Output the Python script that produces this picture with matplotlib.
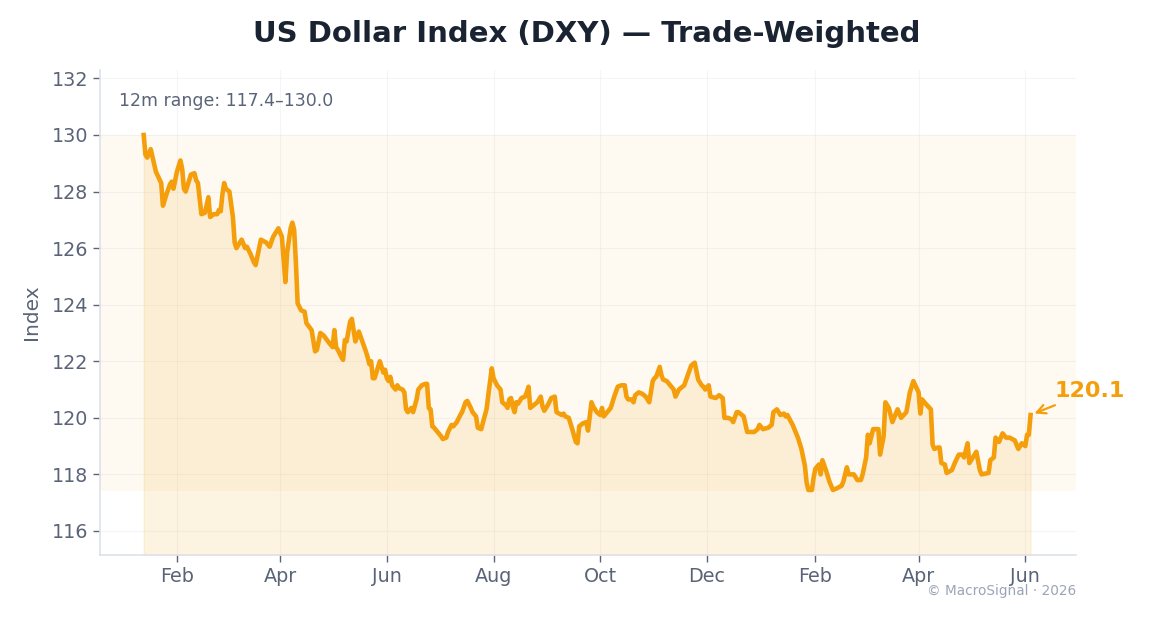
import numpy as np
import pandas as pd
import matplotlib
matplotlib.use("Agg")
import matplotlib.pyplot as plt
import matplotlib.dates as mdates

start_date = "2025-01-13"
day_offsets = [
    0, 1, 2, 4, 7, 10, 11, 13, 15, 16, 17, 19, 21, 22, 23, 24, 26, 27, 29, 30,
    31, 33, 35, 37, 38, 40, 42, 43, 44, 45, 46, 47, 49, 51, 52, 53, 55, 56, 58, 59,
    61, 63, 64, 67, 70, 72, 74, 77, 78, 79, 81, 82, 84, 85, 86, 87, 88, 90, 92, 93,
    96, 98, 99, 101, 103, 106, 108, 109, 110, 111, 113, 114, 115, 116, 118, 119, 121, 123, 125, 127,
    128, 129, 130, 131, 132, 133, 135, 136, 137, 138, 139, 140, 141, 142, 144, 145, 146, 148, 149, 150,
    151, 153, 154, 156, 157, 159, 161, 162, 163, 164, 165, 166, 168, 170, 171, 173, 174, 176, 177, 179,
    181, 182, 184, 185, 187, 188, 190, 191, 193, 194, 196, 197, 199, 200, 202, 204, 205, 207, 208, 209,
    210, 211, 212, 213, 214, 216, 218, 219, 220, 221, 223, 225, 227, 228, 229, 231, 233, 235, 236, 239,
    240, 241, 243, 244, 245, 247, 248, 249, 251, 253, 254, 256, 257, 259, 261, 262, 263, 265, 267, 269,
    271, 273, 275, 276, 277, 279, 280, 281, 283, 285, 287, 289, 291, 292, 293, 295, 296, 297, 299, 301,
    303, 304, 306, 309, 311, 313, 315, 317, 319, 320, 321, 323, 324, 327, 329, 331, 332, 334, 336, 337,
    339, 340, 343, 345, 347, 349, 351, 352, 354, 357, 359, 360, 362, 364, 366, 367, 368, 371, 373, 374,
    376, 378, 379, 380, 382, 383, 384, 386, 387, 388, 390, 392, 394, 396, 399, 400, 402, 403, 406, 408,
    410, 411, 413, 414, 415, 417, 420, 421, 423, 424, 426, 428, 431, 433, 436, 438, 440, 443, 444, 445,
    447, 450, 451, 452, 454, 455, 456, 458, 459, 462, 464, 466, 468, 469, 471, 472, 475, 476, 478, 479,
    483, 484, 486, 487, 489, 491, 493, 495, 498, 500, 502, 504, 505, 506, 507,
]
dxy = [
    130.0, 129.3, 129.2, 129.5, 128.7, 128.3, 127.5, 127.9, 128.25, 128.35, 128.1, 128.7, 129.1, 128.8, 128.1, 128.0, 128.4, 128.6, 128.65, 128.4,
    128.3, 127.2, 127.25, 127.8, 127.1, 127.2, 127.2, 127.35, 127.3, 127.9, 128.3, 128.1, 128.0, 127.1, 126.2, 126.0, 126.2, 126.3, 126.0, 126.05,
    125.8, 125.5, 125.4, 126.3, 126.2, 126.05, 126.4, 126.7, 126.55, 126.4, 124.8, 125.85, 126.7, 126.9, 126.65, 125.5, 124.05, 123.8, 123.75, 123.35,
    123.1, 122.35, 122.4, 123.0, 122.9, 122.65, 122.5, 123.1, 122.5, 122.4, 122.15, 122.05, 122.75, 122.7, 123.4, 123.5, 122.7, 123.05, 122.7, 122.35,
    122.15, 121.9, 122.0, 121.4, 121.4, 121.6, 122.0, 121.8, 121.6, 121.7, 121.4, 121.3, 121.45, 121.15, 121.0, 121.15, 121.05, 121.0, 120.9, 120.3,
    120.2, 120.35, 120.2, 120.65, 121.0, 121.15, 121.2, 121.2, 120.35, 120.3, 119.7, 119.65, 119.5, 119.35, 119.25, 119.3, 119.5, 119.75, 119.7, 119.85,
    120.1, 120.2, 120.55, 120.6, 120.35, 120.2, 120.05, 119.65, 119.6, 119.85, 120.3, 120.8, 121.75, 121.4, 121.15, 121.0, 120.55, 120.45, 120.35, 120.65,
    120.7, 120.4, 120.2, 120.55, 120.5, 120.7, 120.75, 120.9, 121.1, 120.35, 120.45, 120.55, 120.75, 120.4, 120.25, 120.45, 120.7, 120.75, 120.2, 120.1,
    120.15, 120.05, 120.0, 119.8, 119.6, 119.15, 119.1, 119.7, 119.8, 119.85, 119.55, 120.55, 120.4, 120.2, 120.1, 120.35, 120.05, 120.2, 120.35, 120.75,
    121.1, 121.15, 121.15, 120.75, 120.65, 120.65, 120.55, 120.8, 120.9, 120.85, 120.75, 120.55, 121.3, 121.4, 121.45, 121.8, 121.5, 121.35, 121.3, 121.15,
    121.0, 120.75, 121.0, 121.15, 121.5, 121.85, 121.95, 121.35, 121.15, 121.1, 121.0, 121.15, 120.75, 120.7, 120.8, 120.7, 120.0, 120.0, 119.95, 119.85,
    120.2, 120.2, 120.05, 119.5, 119.5, 119.5, 119.6, 119.75, 119.6, 119.65, 119.75, 120.2, 120.3, 120.1, 120.15, 120.05, 120.1, 119.75, 119.45, 119.3,
    118.9, 118.3, 117.7, 117.45, 117.45, 117.9, 118.2, 118.35, 118.0, 118.5, 118.15, 117.75, 117.45, 117.5, 117.6, 117.75, 118.25, 118.0, 118.0, 117.8,
    117.8, 118.0, 118.6, 119.4, 119.1, 119.6, 119.6, 118.7, 119.35, 120.55, 120.35, 119.85, 120.3, 120.0, 120.2, 120.9, 121.3, 120.9, 120.15, 120.65,
    120.5, 120.3, 119.05, 118.9, 118.95, 118.95, 118.4, 118.35, 118.05, 118.15, 118.45, 118.7, 118.7, 118.6, 119.1, 118.4, 118.7, 118.8, 118.15, 118.0,
    118.05, 118.5, 118.6, 119.3, 119.15, 119.45, 119.3, 119.3, 119.2, 118.9, 119.1, 119.0, 119.4, 119.4, 120.1,
]
range_low, range_high = 117.4, 130.0

dates = pd.Timestamp(start_date) + pd.to_timedelta(day_offsets, unit="D")

line_color = "#f59e0b"
text_gray = "#5a6478"

fig = plt.figure(figsize=(11.49, 6.19), dpi=100)
ax = fig.add_axes([0.087, 0.1034, 0.8495, 0.7836])

ymin, ymax = 115.15, 132.3
ax.axhspan(range_low, range_high, color=line_color, alpha=0.05, lw=0)
ax.fill_between(dates, dxy, ymin, color=line_color, alpha=0.12, lw=1)
ax.plot(dates, dxy, color=line_color, lw=3.3, solid_joinstyle="round")

ax.set_ylim(ymin, ymax)
ax.set_xlim(pd.Timestamp("2024-12-19"), pd.Timestamp("2026-06-30"))
ax.set_yticks(np.arange(116, 133, 2))
ax.xaxis.set_major_locator(mdates.MonthLocator(bymonth=[2, 4, 6, 8, 10, 12]))
ax.xaxis.set_major_formatter(mdates.DateFormatter("%b"))

ax.grid(True, color="#e9edf2", lw=0.8, alpha=0.5)
ax.set_axisbelow(True)
for s in ["top", "right"]:
    ax.spines[s].set_visible(False)
for s in ["left", "bottom"]:
    ax.spines[s].set_color("#dde2ea")
    ax.spines[s].set_linewidth(1.2)
ax.tick_params(colors=text_gray, labelsize=13.8, length=5, width=1)
ax.set_ylabel("Index", fontsize=14.5, color=text_gray, labelpad=8)

ax.text(0.019, 0.955, f"12m range: {range_low:.1f}\u2013{range_high:.1f}",
        transform=ax.transAxes, fontsize=12.5, color=text_gray, va="top")

ax.annotate(f"{dxy[-1]:.1f}", xy=(dates[-1], dxy[-1]), xytext=(17, 17),
            textcoords="offset points", fontsize=16, fontweight="bold",
            color=line_color, ha="left", va="center",
            arrowprops=dict(arrowstyle="->", color=line_color, lw=1.6,
                            shrinkA=2, shrinkB=3))

fig.text(0.511, 0.945, "US Dollar Index (DXY) \u2014 Trade-Weighted",
         ha="center", va="center", fontsize=21, fontweight="bold", color="#1a2332")
fig.text(0.9365, 0.045, "\u00a9 MacroSignal \u00b7 2026", ha="right", va="center",
         fontsize=9.8, color="#9aa5b8")

fig.savefig("out.png", dpi=100)
